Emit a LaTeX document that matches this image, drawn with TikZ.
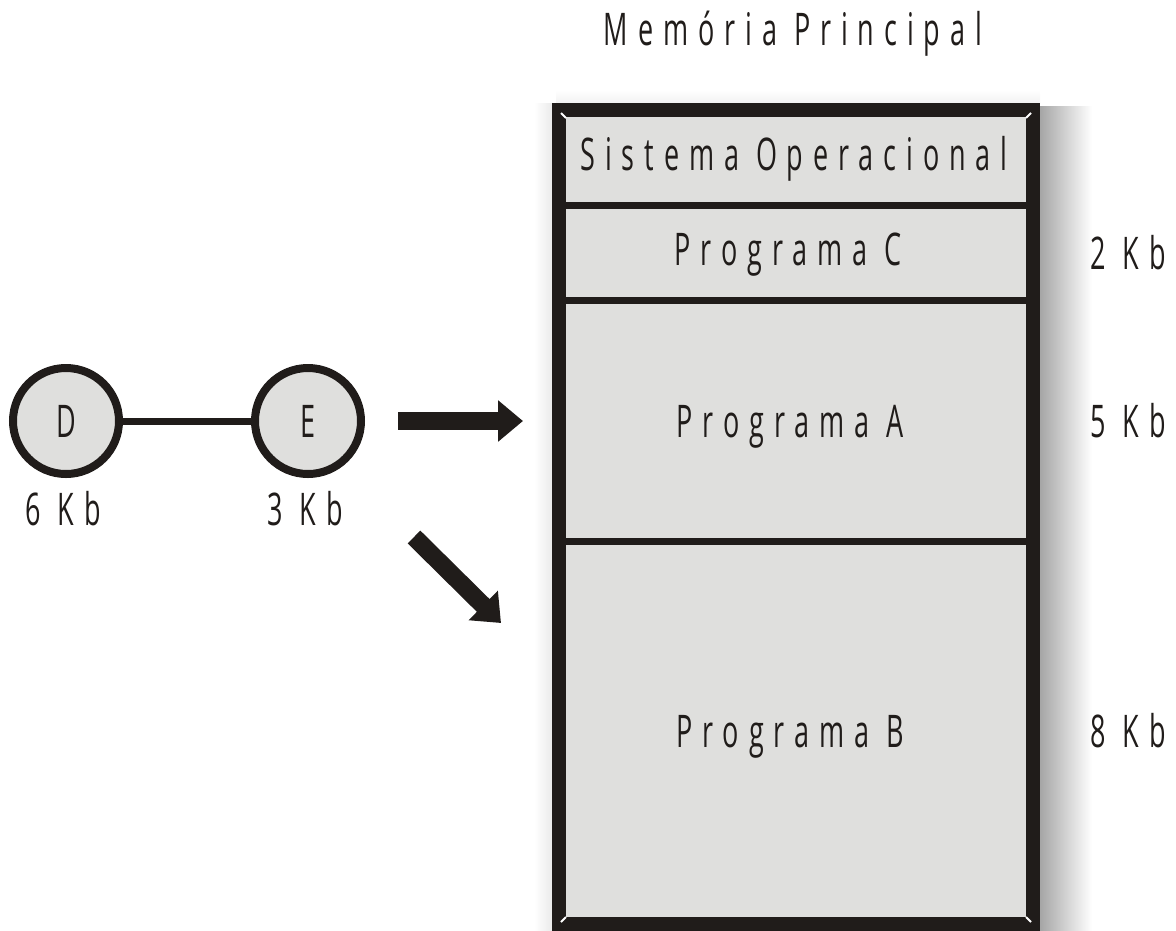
\documentclass[tikz,border=0pt]{standalone}
\usepackage{fontspec}
\setmainfont{Open Sans}[FakeStretch=0.6,LetterSpace=22]
\usetikzlibrary{arrows.meta}
\definecolor{memGray}{HTML}{DFDFDD}
\definecolor{memInk}{HTML}{201C1A}

\begin{document}
\begin{tikzpicture}
[x=1pt,y=-1pt,
  textDecorate/.style={inner sep=0pt,text height=32pt,text depth=0pt,text=memInk,font=\fontsize{45}{50}\selectfont},%
  nodeDecorate/.style={shape=circle,minimum size=106pt,inner sep=0pt,draw=memInk,line width=8pt,fill=memGray,textDecorate},%
  lineDecorate/.style={-,draw=memInk,line width=7pt},%
  arrowDecorate/.style={-{Triangle[length=25pt,width=40pt]},draw=memInk,line width=18pt}]
\useasboundingbox (0,0) rectangle (1176,930);
%% shadow of the memory
\shade[left color=black!35,right color=white] (1040,106) rectangle (1092,930);
\shade[top color=white,bottom color=black!5] (556,90) rectangle (1040,103);
\shade[left color=white,right color=black!8] (534,103) rectangle (552,930);
%% memory and its partitions
\fill[memGray] (559,110) rectangle (1033,924);
\draw[memInk,line width=14pt] (559,110) rectangle (1033,924);
\foreach \y in {205,300,541}
{
  \draw[memInk,line width=7pt] (566,\y) -- (1026,\y);
}
\foreach \x/\y/\dx/\dy in {566/118/-1/-1, 1026/118/1/-1, 566/917/-1/1, 1026/917/1/1}
{
  \draw[white,line width=2pt] (\x,\y) -- ++(5*\dx,5*\dy);
}
%% labels
\node[textDecorate] (title) at (793,29) {Memória Principal};
\foreach \nodename/\x/\y/\txt in {
  so/794/154/Sistema Operacional, progC/788/249/Programa C,
  progA/790/421/Programa A, progB/790/731/Programa B}
{
  \node[textDecorate] (\nodename) at (\x,\y) {\txt};
}
\foreach \nodename/\y/\txt in {sizeC/253/2 Kb, sizeA/421/5 Kb, sizeB/731/8 Kb}
{
  \node[textDecorate,anchor=west] (\nodename) at (1090,\y) {\txt};
}
%% programs waiting
\foreach \nodename/\x/\size in {D/66/6 Kb, E/308/3 Kb}
{
  \node[nodeDecorate] (\nodename) at (\x,421) {\nodename};
  \node[textDecorate] (size\nodename) at (\x-3,509) {\size};
}
\path (D) edge[lineDecorate] (E);
%% arrows
\coordinate (inA) at (398,421);
\coordinate (toA) at (523,421);
\coordinate (inB) at (414,537);
\coordinate (toB) at (501,623);
\draw[arrowDecorate] (inA) -- (toA);
\draw[arrowDecorate] (inB) -- (toB);
\end{tikzpicture}
\end{document}
